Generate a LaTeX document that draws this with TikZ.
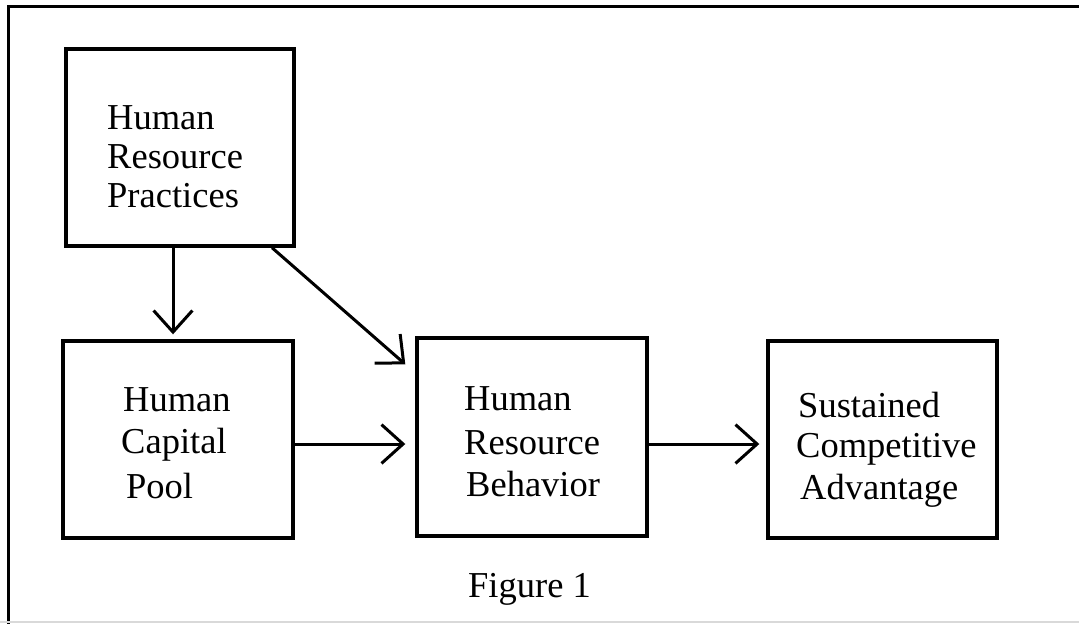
\documentclass[tikz,border=0pt]{standalone}
\usepackage{fontspec}
\setmainfont{Liberation Serif}
\usetikzlibrary{arrows.meta}
\begin{document}
\begin{tikzpicture}[x=1pt,y=-1pt,
  box/.style={draw,line width=3.4pt,minimum width=#1,inner sep=0pt,rectangle},
  lbl/.style={anchor=base west,inner sep=0pt,font=\fontsize{36.5}{39}\selectfont},
  arr/.style={line width=3pt,-{Straight Barb[angle=84:29pt,line width=3pt]}}]
\useasboundingbox (0,0) rectangle (1079,624);
% outer frame
\coordinate (ftl) at (8,6);
\coordinate (ftr) at (1079,6);
\coordinate (fbl) at (8,624);
\coordinate (gbl) at (0,622);
\coordinate (gbr) at (1079,622);
\draw[line width=3pt] (ftr) -- (ftl) -- (fbl);
\draw[line width=1.5pt,black!15] (gbl) -- (gbr);
% boxes
\node[box=228pt,minimum height=197pt] (hrp) at (180,147.5) {};
\node[box=230pt,minimum height=197pt] (hcp) at (178,439.5) {};
\node[box=230pt,minimum height=198pt] (hrb) at (532,437) {};
\node[box=229pt,minimum height=197pt] (sca) at (882.5,439.5) {};
% texts
\node[lbl] (t1) at (107,129) {Human};
\node[lbl] (t2) at (107,168) {Resource};
\node[lbl] (t3) at (107,207) {Practices};
\node[lbl] (t4) at (123,411) {Human};
\node[lbl] (t5) at (121,453) {Capital};
\node[lbl] (t6) at (126,498) {Pool};
\node[lbl] (t7) at (464,410) {Human};
\node[lbl] (t8) at (464,454) {Resource};
\node[lbl] (t9) at (466,496) {Behavior};
\node[lbl] (t10) at (798,417) {Sustained};
\node[lbl] (t11) at (796,457) {Competitive};
\node[lbl] (t12) at (800,499) {Advantage};
\node[lbl] (fig) at (468,597) {Figure 1};
% connectors
\draw[arr,shorten >=5pt] ([xshift=-7pt]hrp.south) -- ([xshift=-5pt]hcp.north);
\draw[arr] ([xshift=92pt]hrp.south) -- ([shift={(-10,28)}]hrb.north west);
\draw[arr,shorten >=10pt] ([yshift=-4.5pt]hcp.east) -- ([yshift=-7pt]hrb.west);
\draw[arr,shorten >=7pt] ([yshift=-7pt]hrb.east) -- ([yshift=-4.5pt]sca.west);
\end{tikzpicture}
\end{document}
